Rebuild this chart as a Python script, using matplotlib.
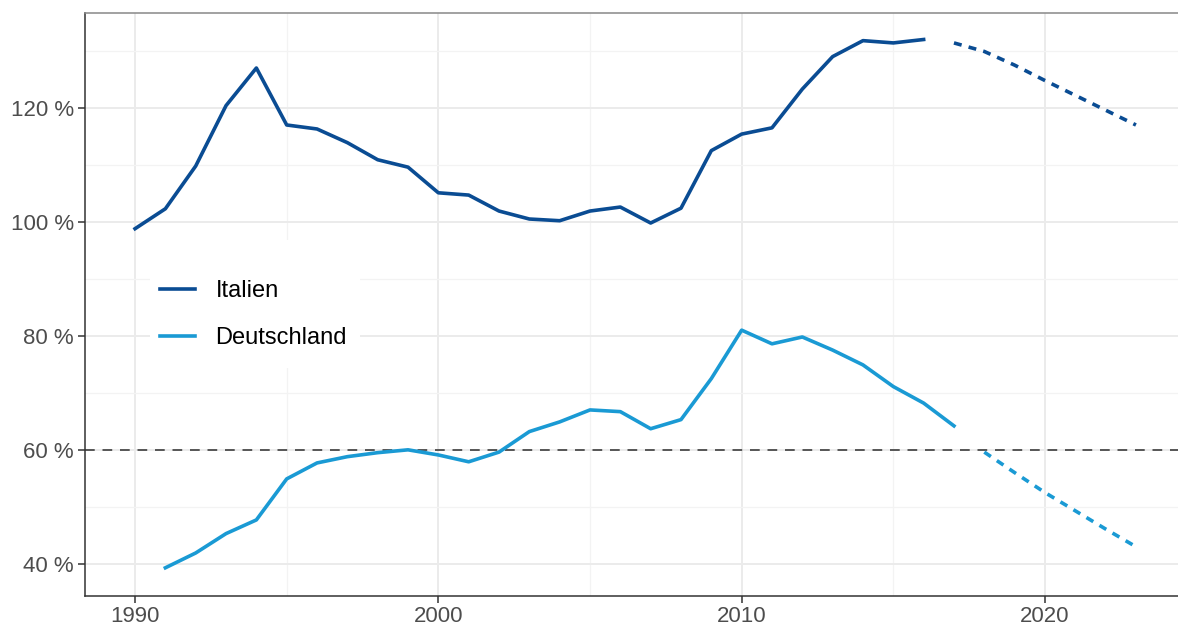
import matplotlib
matplotlib.use("Agg")
import matplotlib.pyplot as plt
from matplotlib.patches import Rectangle
from matplotlib.ticker import FixedLocator, FuncFormatter

plt.rcParams['font.family'] = ['Liberation Sans', 'DejaVu Sans']

# Staatsverschuldung in % des BIP
years_it = list(range(1990, 2017))
debt_it = [98.8, 102.3, 109.8, 120.4, 127.0, 117.0, 116.3, 113.9, 110.9, 109.6,
           105.1, 104.7, 101.9, 100.5, 100.2, 101.9, 102.6, 99.8, 102.4, 112.5,
           115.4, 116.5, 123.3, 129.0, 131.8, 131.4, 132.0]
years_it_fc = list(range(2017, 2024))
debt_it_fc = [131.4, 129.9, 127.5, 124.8, 122.2, 119.6, 117.0]

years_de = list(range(1991, 2018))
debt_de = [39.3, 41.9, 45.3, 47.7, 54.9, 57.7, 58.8, 59.5, 60.0, 59.1,
           57.9, 59.6, 63.2, 64.9, 67.0, 66.7, 63.7, 65.3, 72.5, 81.0,
           78.6, 79.8, 77.5, 74.9, 71.1, 68.2, 64.2]
years_de_fc = list(range(2018, 2024))
debt_de_fc = [59.6, 56.0, 52.5, 49.3, 46.1, 43.0]

limit = 60

col_it = "#0A4C93"
col_de = "#1A9AD4"

fig = plt.figure(figsize=(11.78, 6.25), dpi=100)
ax = fig.add_axes([85 / 1178, 29 / 625, 1101 / 1178, 583 / 625])

ax.axhline(limit, color="#555555", lw=1.4, dashes=(5, 4), zorder=2)

lw = 2.6
ax.plot(years_it, debt_it, color=col_it, lw=lw, label="Italien", zorder=3)
ax.plot(years_it_fc, debt_it_fc, color=col_it, lw=lw, dashes=(2.2, 2.0), zorder=3)
ax.plot(years_de, debt_de, color=col_de, lw=lw, label="Deutschland", zorder=3)
ax.plot(years_de_fc, debt_de_fc, color=col_de, lw=lw, dashes=(2.2, 2.0), zorder=3)

ax.set_xlim(1988.35, 2024.65)
ax.set_ylim(34.35, 136.65)

ax.xaxis.set_major_locator(FixedLocator([1990, 2000, 2010, 2020]))
ax.xaxis.set_minor_locator(FixedLocator([1995, 2005, 2015]))
ax.yaxis.set_major_locator(FixedLocator([40, 60, 80, 100, 120]))
ax.yaxis.set_minor_locator(FixedLocator([50, 70, 90, 110, 130]))
ax.yaxis.set_major_formatter(FuncFormatter(lambda v, p: "%d %%" % v))

ax.grid(which="major", color="#EBEBEB", lw=1.4, zorder=0)
ax.grid(which="minor", color="#F3F3F3", lw=0.9, zorder=0)
ax.set_axisbelow(True)

ax.tick_params(which="major", length=5, width=1.1, color="#333333",
               labelsize=16, labelcolor="#4D4D4D", pad=3)
ax.tick_params(axis="x", which="major", pad=2)
ax.tick_params(which="minor", length=0)

for side in ["top", "right"]:
    ax.spines[side].set_color("#888888")
    ax.spines[side].set_linewidth(1.1)
for side in ["left", "bottom"]:
    ax.spines[side].set_color("#333333")
    ax.spines[side].set_linewidth(1.1)

# white legend background
ax.add_patch(Rectangle((65 / 1101, 228 / 583), 210 / 1101, 128 / 583,
                       transform=ax.transAxes, facecolor="white",
                       edgecolor="none", zorder=1))

leg = ax.legend(loc="upper left", bbox_to_anchor=(75 / 1101, 316 / 583),
                frameon=False, fontsize=17, handlelength=1.5, handletextpad=0.85,
                labelspacing=1.08, borderpad=0, borderaxespad=0)

fig.savefig("out.png", dpi=100)
